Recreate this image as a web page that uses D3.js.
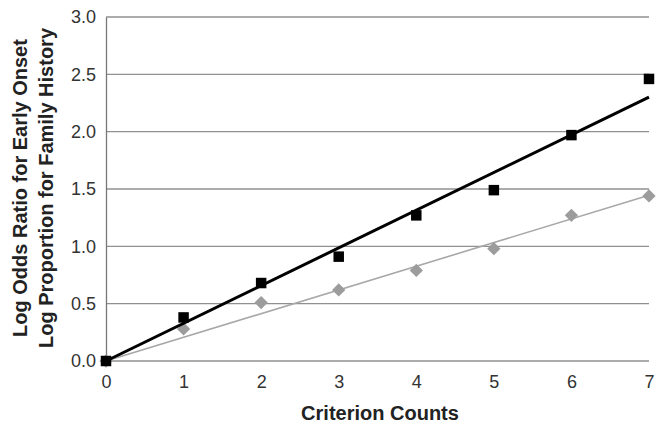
<!DOCTYPE html>
<html><head><meta charset="utf-8">
<script src="https://cdn.jsdelivr.net/npm/d3@7"></script>
<style>body{margin:0;background:#fff;} text{font-family:"Liberation Sans",Arial,sans-serif;}</style>
</head><body>
<svg id="c" width="664" height="429"></svg>
<script>
const counts = [0,1,2,3,4,5,6,7];
const earlyOnset = [0,0.38,0.68,0.91,1.27,1.49,1.97,2.46];
const familyHistory = [0,0.28,0.51,0.62,0.79,0.98,1.27,1.44];
const yTicks = [0,0.5,1.0,1.5,2.0,2.5,3.0];
const xTicks = [0,1,2,3,4,5,6,7];

const svg = d3.select("#c");
const W = 664, H = 429;
const m = {l:106,r:15,t:17,b:68};
const x = d3.scaleLinear().domain([0,7]).range([m.l, W-m.r]);
const y = d3.scaleLinear().domain([0,3]).range([H-m.b, m.t]);
const FONT = "Liberation Sans, Arial, sans-serif";

// gridlines
svg.append("g").selectAll("line").data(yTicks).join("line")
  .attr("x1", x(0)).attr("x2", x(7))
  .attr("y1", d=>y(d)).attr("y2", d=>y(d))
  .attr("stroke", "#909090").attr("stroke-width", 1.3);

// y axis
const ya = svg.append("g").attr("transform",`translate(${x(0)},0)`)
  .call(d3.axisLeft(y).tickValues(yTicks).tickFormat(d3.format(".1f")).tickSize(0).tickPadding(10));
ya.select(".domain").attr("stroke","#777").attr("stroke-width",1.3);
ya.selectAll("text").attr("font-size",18).attr("fill","#333").style("font-family",FONT);

// x axis
const xa = svg.append("g").attr("transform",`translate(0,${y(0)})`)
  .call(d3.axisBottom(x).tickValues(xTicks).tickFormat(d3.format("d")).tickSize(0).tickPadding(14));
xa.select(".domain").remove();
xa.selectAll("text").attr("font-size",18).attr("fill","#333").style("font-family",FONT);

// trend lines (least squares through origin)
function slope(vals){
  const sxy = d3.sum(counts, (c,i)=>c*vals[i]);
  const sxx = d3.sum(counts, c=>c*c);
  return sxy/sxx;
}
const sF = slope(familyHistory), sE = slope(earlyOnset);
const line = d3.line().x(d=>x(d[0])).y(d=>y(d[1]));
svg.append("path").attr("d", line([[0,0],[7,7*sF]]))
  .attr("stroke","#a8a8a8").attr("stroke-width",1.6).attr("fill","none");

// diamonds
svg.append("g").selectAll("path").data(counts).join("path")
  .attr("d", d3.symbol().type(d3.symbolSquare).size(88))
  .attr("transform",(d,i)=>`translate(${x(d)},${y(familyHistory[i])}) rotate(45)`)
  .attr("fill","#9c9c9c");

svg.append("path").attr("d", line([[0,0],[7,7*sE]]))
  .attr("stroke","#000").attr("stroke-width",3).attr("fill","none");

// squares
svg.append("g").selectAll("path").data(counts).join("path")
  .attr("d", d3.symbol().type(d3.symbolSquare).size(110))
  .attr("transform",(d,i)=>`translate(${x(d)},${y(earlyOnset[i])})`)
  .attr("fill","#000");

// labels
svg.append("text").attr("x", 380).attr("y", 420).attr("text-anchor","middle")
  .attr("font-size",20).attr("font-weight","bold").attr("fill","#222").style("font-family",FONT)
  .text("Criterion Counts");
const yl = svg.append("text").attr("transform",`translate(27,188) rotate(-90)`)
  .attr("text-anchor","middle").attr("font-size",20).attr("font-weight","bold").attr("fill","#222")
  .style("font-family",FONT);
yl.append("tspan").attr("x",0).attr("dy",0).text("Log Odds Ratio for Early Onset");
yl.append("tspan").attr("x",0).attr("dy",26).text("Log Proportion for Family History");
</script>
</body></html>
